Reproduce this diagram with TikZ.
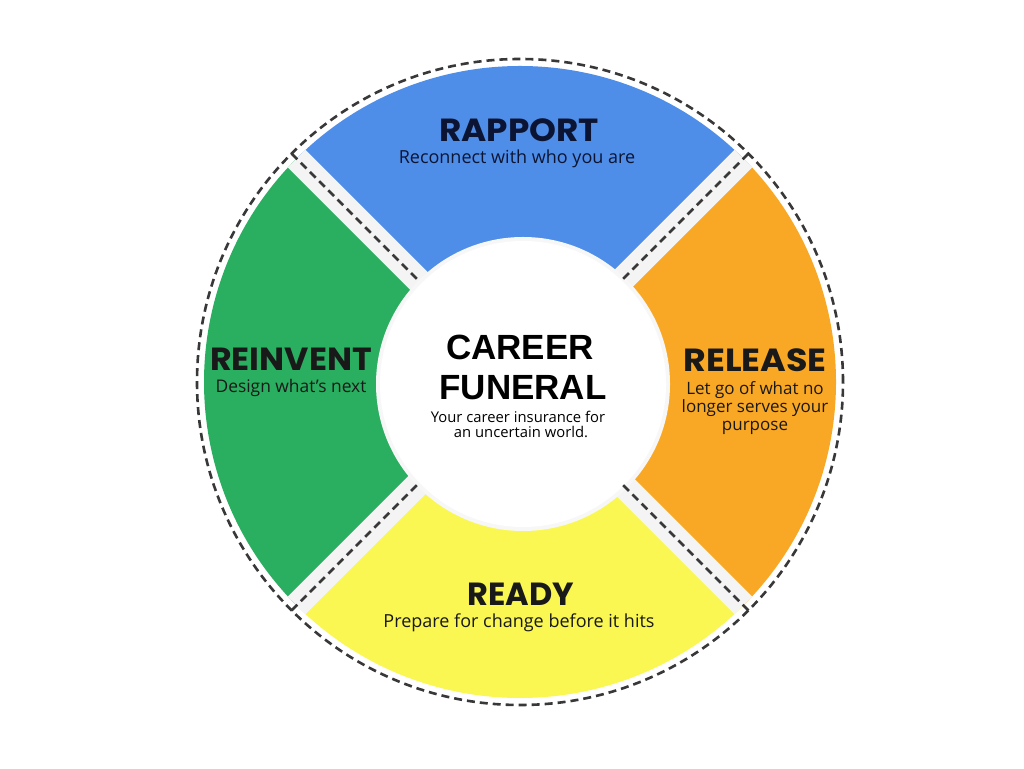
\documentclass[tikz,border=0pt]{standalone}
\usepackage{fontspec}
\setmainfont{Open Sans}
\newfontfamily\headfont{Poppins}
\newfontfamily\titlefont{Liberation Sans}
\definecolor{cblue}{HTML}{4F8EE8}
\definecolor{cgreen}{HTML}{2AAE60}
\definecolor{corange}{HTML}{F9A825}
\definecolor{cyellow}{HTML}{FAF752}
\definecolor{cgap}{HTML}{F4F4F4}
\definecolor{cdash}{HTML}{383838}
\definecolor{navy}{HTML}{0B1533}
\tikzset{
  gapband/.style={line width=25pt, cgap},
  dashln/.style={line width=2.6pt, cdash, dash pattern=on 8pt off 5pt},
  head/.style={anchor=base, inner sep=0pt, text depth=0pt, font=\headfont\bfseries\fontsize{32}{32}\selectfont},
  sub/.style={anchor=base, inner sep=0pt, font=\fontsize{17.5}{17.5}\selectfont},
  ttl/.style={anchor=base, inner sep=0pt, text depth=0pt, font=\titlefont\bfseries\fontsize{35}{35}\selectfont},
}
\begin{document}
\begin{tikzpicture}[x=1pt,y=1pt]
\useasboundingbox[fill=white] (0,0) rectangle (1024,768);
\coordinate (C) at (520,386);
% sectors
\fill[cblue]   (C) -- ++(45:316pt)  arc[start angle=45, end angle=135, radius=316pt] -- cycle;
\fill[cgreen]  (C) -- ++(135:316pt) arc[start angle=135, end angle=225, radius=316pt] -- cycle;
\fill[cyellow] (C) -- ++(225:316pt) arc[start angle=225, end angle=315, radius=316pt] -- cycle;
\fill[corange] (C) -- ++(-45:316pt) arc[start angle=-45, end angle=45, radius=316pt] -- cycle;
% gaps
\foreach \a in {45,135,225,315} \draw[gapband] (C) -- ++(\a:316pt);
% centre disc
\fill[black!3] (523,384) circle[radius=147pt];
\fill[white] (523,384) circle[radius=143pt];
% dashed lines
\foreach \a in {45,135,225,315} \draw[dashln] (C) ++(\a:146pt) -- ++(\a:177pt);
\draw[dashln] (C) circle[radius=323pt];
% texts
\node[head, text=navy, xscale=1.07] (rap) at (519,626) {RAPPORT};
\node[sub, text=navy, font=\fontsize{18}{18}\selectfont] (rapS) at (517,604) {Reconnect with who you are};
\node[head, text=black!90, xscale=1.04] (rei) at (291,397) {REINVENT};
\node[sub, text=black!90, font=\fontsize{17.4}{17.4}\selectfont] (reiS) at (291,375) {Design what’s next};
\node[head, text=black!90, xscale=1.09] (rel) at (755,396) {RELEASE};
\node[sub, text=black!90, font=\fontsize{17}{17}\selectfont] (relS1) at (755,373) {Let go of what no};
\node[sub, text=black!90, font=\fontsize{17}{17}\selectfont] (relS2) at (755,355) {longer serves your};
\node[sub, text=black!90, font=\fontsize{17}{17}\selectfont] (relS3) at (755,337) {purpose};
\node[head, text=black!90] (rea) at (521,162) {READY};
\node[sub, text=black!90, font=\fontsize{18}{18}\selectfont] (reaS) at (519,141) {Prepare for change before it hits};
\node[ttl] (car) at (520,408) {CAREER};
\node[ttl] (fun) at (523,368) {FUNERAL};
\node[sub, font=\fontsize{14.8}{14.8}\selectfont] (cs1) at (518,345) {Your career insurance for};
\node[sub, font=\fontsize{14.8}{14.8}\selectfont] (cs2) at (521,330) {an uncertain world.};
\end{tikzpicture}
\end{document}
